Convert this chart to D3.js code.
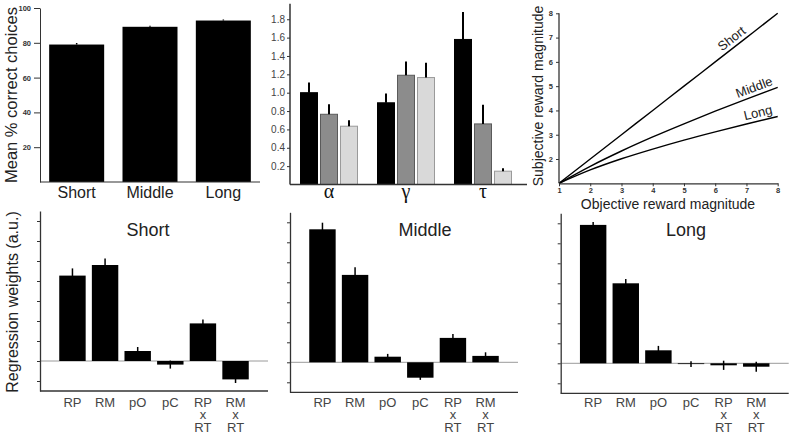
<!DOCTYPE html>
<html><head><meta charset="utf-8">
<script src="https://cdn.jsdelivr.net/npm/d3@7"></script>
<style>body{margin:0;background:#fff}svg{display:block;font-family:"Liberation Sans",Arial,sans-serif}</style>
</head><body><svg id="c" width="790" height="437"></svg>
<script>
// ---------- data ----------
const accCategories = ["Short", "Middle", "Long"];
const accValues = [79.0, 89.2, 92.8];
const accErrors = [0.9, 0.6, 0.6];
const accTicks = [20, 40, 60, 80, 100];

const paramNames = ["α", "γ", "τ"];
const paramGroups = ["Short", "Middle", "Long"];
const paramShort = [1.00, 0.89, 1.58];
const paramMiddle = [0.765, 1.19, 0.66];
const paramLong = [0.635, 1.165, 0.145];
const paramShortErr = [0.11, 0.10, 0.30];
const paramMiddleErr = [0.11, 0.15, 0.21];
const paramLongErr = [0.066, 0.16, 0.032];
const paramTicks = [0.2, 0.4, 0.6, 0.8, 1.0, 1.2, 1.4, 1.6, 1.8];

const objectiveMagnitude = [1, 2, 3, 4, 5, 6, 7, 8];
const subjectiveShort = [1, 2, 3, 4, 5, 6, 7, 8];
const subjectiveMiddle = [1, 1.70, 2.33, 2.91, 3.45, 3.97, 4.47, 4.95];
const subjectiveLong = [1, 1.55, 2.01, 2.41, 2.78, 3.12, 3.44, 3.75];
const magnitudeTicks = [1, 2, 3, 4, 5, 6, 7, 8];
const curveNames = ["Short", "Middle", "Long"];

const regressors = ["RP", "RM", "pO", "pC", "RPxRT", "RMxRT"];
const regressorLabels = [["RP"], ["RM"], ["pO"], ["pC"], ["RP", "x", "RT"], ["RM", "x", "RT"]];
const weightsShort = [4.27, 4.80, 0.50, -0.18, 1.88, -0.92];
const weightsShortErr = [0.36, 0.32, 0.20, 0.20, 0.20, 0.18];
const weightsMiddle = [6.65, 4.37, 0.28, -0.77, 1.22, 0.32];
const weightsMiddleErr = [0.33, 0.38, 0.14, 0.11, 0.20, 0.18];
const weightsLong = [6.92, 4.00, 0.65, -0.04, -0.10, -0.17];
const weightsLongErr = [0.15, 0.22, 0.22, 0.14, 0.23, 0.25];
const weightTicks = [-1, 0, 1, 2, 3, 4, 5, 6, 7];
const weightPanels = ["Short", "Middle", "Long"];

// ---------- drawing ----------
const svg = d3.select("#c");
const axisCol = "#333";

// ===== Panel A: accuracy =====
{
  const g = svg.append("g");
  const x = d3.scaleBand().domain(accCategories).range([40, 260]).paddingInner(0.25).paddingOuter(0.125);
  const y = d3.scaleLinear().domain([0, 100]).range([182, 8]);
  g.selectAll("rect").data(accValues).join("rect")
    .attr("x", (d, i) => x(accCategories[i])).attr("width", x.bandwidth())
    .attr("y", d => y(d)).attr("height", d => y(0) - y(d)).attr("fill", "#000");
  g.selectAll("line.err").data(accValues).join("line").attr("class", "err")
    .attr("x1", (d, i) => x(accCategories[i]) + x.bandwidth() / 2)
    .attr("x2", (d, i) => x(accCategories[i]) + x.bandwidth() / 2)
    .attr("y1", d => y(d)).attr("y2", (d, i) => y(d + accErrors[i]))
    .attr("stroke", "#000").attr("stroke-width", 1.5);
  const ya = g.append("g").attr("transform", "translate(40,0)")
    .call(d3.axisLeft(y).tickValues(accTicks).tickFormat(d3.format("d")).tickSize(6).tickPadding(3).tickSizeOuter(0));
  ya.select(".domain").attr("stroke", axisCol);
  ya.selectAll(".tick line").attr("stroke", axisCol);
  ya.selectAll("text").attr("font-size", 7.5).attr("fill", "#333").attr("font-weight", "bold");
  g.append("line").attr("x1", 40).attr("x2", 260).attr("y1", y(0)).attr("y2", y(0)).attr("stroke", axisCol).attr("stroke-width", 1.2);
  g.selectAll("text.cat").data(accCategories).join("text").attr("class", "cat")
    .attr("x", d => x(d) + x.bandwidth() / 2).attr("y", 198).attr("text-anchor", "middle")
    .attr("font-size", 16).attr("fill", "#222").text(d => d);
  g.append("text").attr("transform", "translate(17,95) rotate(-90)").attr("text-anchor", "middle")
    .attr("font-size", 16.5).attr("fill", "#222").text("Mean % correct choices");
}

// ===== Panel B: parameters =====
{
  const g = svg.append("g");
  const series = [paramShort, paramMiddle, paramLong];
  const errs = [paramShortErr, paramMiddleErr, paramLongErr];
  const fills = ["#000", "#8c8c8c", "#d9d9d9"];
  const strokes = ["#000", "#5a5a5a", "#9a9a9a"];
  const x0 = d3.scaleBand().domain(paramNames).range([290.5, 521.5]);
  const x1 = d3.scaleBand().domain(paramGroups).range([-29, 29]).paddingInner(0.1);
  const y = d3.scaleLinear().domain([0, 2]).range([184.5, 0.9]);
  paramGroups.forEach((grp, s) => {
    g.selectAll("rect.s" + s).data(series[s]).join("rect").attr("class", "s" + s)
      .attr("x", (d, i) => x0(paramNames[i]) + x0.bandwidth() / 2 + x1(grp) + 0.5)
      .attr("width", x1.bandwidth() - 1)
      .attr("y", d => y(d)).attr("height", d => y(0) - y(d))
      .attr("fill", fills[s]).attr("stroke", strokes[s]).attr("stroke-width", 1);
    g.selectAll("line.e" + s).data(series[s]).join("line").attr("class", "e" + s)
      .attr("x1", (d, i) => x0(paramNames[i]) + x0.bandwidth() / 2 + x1(grp) + x1.bandwidth() / 2)
      .attr("x2", (d, i) => x0(paramNames[i]) + x0.bandwidth() / 2 + x1(grp) + x1.bandwidth() / 2)
      .attr("y1", d => y(d)).attr("y2", (d, i) => y(d + errs[s][i]))
      .attr("stroke", "#000").attr("stroke-width", 2);
  });
  const ya = g.append("g").attr("transform", "translate(290,0)")
    .call(d3.axisLeft(y).tickValues(paramTicks).tickFormat(d3.format(".1f")).tickSize(3).tickPadding(2).tickSizeOuter(0));
  ya.select(".domain").attr("d", `M0,${y(0)}V${y(1.97)}`).attr("stroke", axisCol).attr("stroke-width", 1.5);
  ya.selectAll(".tick line").attr("stroke", axisCol);
  ya.selectAll("text").attr("font-size", 10).attr("fill", "#444");
  g.append("line").attr("x1", 290).attr("x2", 527).attr("y1", y(0)).attr("y2", y(0)).attr("stroke", axisCol).attr("stroke-width", 1.5);
  g.selectAll("text.greek").data(paramNames).join("text").attr("class", "greek")
    .attr("x", d => x0(d) + x0.bandwidth() / 2).attr("y", 198).attr("text-anchor", "middle")
    .attr("font-family", "'Liberation Serif','DejaVu Serif',serif")
    .attr("font-size", 20).attr("fill", "#111").text(d => d);
}

// ===== Panel C: subjective magnitude =====
{
  const g = svg.append("g");
  const x = d3.scaleLinear().domain([1, 8]).range([559, 777.7]);
  const y = d3.scaleLinear().domain([1, 8]).range([183.3, 13.3]);
  const curves = [subjectiveShort, subjectiveMiddle, subjectiveLong];
  const line = d3.line().x((d, i) => x(objectiveMagnitude[i])).y(d => y(d)).curve(d3.curveMonotoneX);
  g.selectAll("path.curve").data(curves).join("path").attr("class", "curve")
    .attr("d", line).attr("fill", "none").attr("stroke", "#000").attr("stroke-width", 1.4);
  const xa = g.append("g").attr("transform", `translate(0,${y(1)})`)
    .call(d3.axisBottom(x).tickValues(magnitudeTicks).tickFormat(d3.format("d")).tickSize(3).tickPadding(1).tickSizeOuter(0));
  xa.select(".domain").attr("stroke", axisCol).attr("stroke-width", 1.3);
  xa.selectAll(".tick line").attr("stroke", axisCol);
  xa.selectAll("text").attr("font-size", 7.5).attr("fill", "#333").attr("font-weight", "bold");
  const ya = g.append("g").attr("transform", `translate(${x(1)},0)`)
    .call(d3.axisLeft(y).tickValues(magnitudeTicks.slice(1)).tickFormat(d3.format("d")).tickSize(3).tickPadding(3).tickSizeOuter(0));
  ya.select(".domain").attr("d", `M0,${y(1)}V${y(8)}`).attr("stroke", axisCol).attr("stroke-width", 1.3);
  ya.selectAll(".tick line").attr("stroke", axisCol);
  ya.selectAll("text").attr("font-size", 7.5).attr("fill", "#333").attr("font-weight", "bold");
  // curve labels placed along each curve
  const labelAt = [6.69, 7.34, 7.43];
  curves.forEach((c, k) => {
    const xv = labelAt[k];
    const i = Math.min(objectiveMagnitude.length - 2, Math.floor(xv - 1));
    const t = (xv - objectiveMagnitude[i]) / (objectiveMagnitude[i + 1] - objectiveMagnitude[i]);
    const yv = c[i] + t * (c[i + 1] - c[i]);
    const dx = x(objectiveMagnitude[i + 1]) - x(objectiveMagnitude[i]);
    const dy = y(c[i + 1]) - y(c[i]);
    const ang = Math.atan2(dy, dx) * 180 / Math.PI;
    g.append("text").attr("transform", `translate(${x(xv)},${y(yv)}) rotate(${ang})`)
      .attr("y", -4).attr("text-anchor", "middle").attr("font-size", 13).attr("fill", "#222")
      .text(curveNames[k]);
  });
  g.append("text").attr("x", 668).attr("y", 208.5).attr("text-anchor", "middle")
    .attr("font-size", 14).attr("fill", "#222").text("Objective reward magnitude");
  g.append("text").attr("transform", "translate(543,96) rotate(-90)").attr("text-anchor", "middle")
    .attr("font-size", 14).attr("fill", "#222").text("Subjective reward magnitude");
}

// ===== Panels D: regression weights =====
{
  const weights = [weightsShort, weightsMiddle, weightsLong];
  const werrs = [weightsShortErr, weightsMiddleErr, weightsLongErr];
  const axisX = [40, 290, 560.7];
  const topY = [211, 212.3, 213.3];
  const titleX = [148, 425, 686];
  weightPanels.forEach((name, p) => {
    const g = svg.append("g");
    const x = d3.scaleBand().domain(regressors).range([axisX[p], axisX[p] + 228]).paddingInner(0.19).paddingOuter(0.59);
    const y = d3.scaleLinear().domain([-1.5, 7.5]).range([topY[p] + 180, topY[p]]);
    g.append("line").attr("x1", axisX[p]).attr("x2", axisX[p] + 228).attr("y1", y(0)).attr("y2", y(0))
      .attr("stroke", "#9a9a9a").attr("stroke-width", 1);
    g.selectAll("rect").data(weights[p]).join("rect")
      .attr("x", (d, i) => x(regressors[i])).attr("width", x.bandwidth())
      .attr("y", d => y(Math.max(0, d))).attr("height", d => Math.abs(y(d) - y(0)))
      .attr("fill", "#000");
    g.selectAll("line.err").data(weights[p]).join("line").attr("class", "err")
      .attr("x1", (d, i) => x(regressors[i]) + x.bandwidth() / 2)
      .attr("x2", (d, i) => x(regressors[i]) + x.bandwidth() / 2)
      .attr("y1", (d, i) => y(d - werrs[p][i])).attr("y2", (d, i) => y(d + werrs[p][i]))
      .attr("stroke", "#000").attr("stroke-width", 1.5);
    const ya = g.append("g").attr("transform", `translate(${axisX[p]},0)`)
      .call(d3.axisLeft(y).tickValues(weightTicks).tickFormat("").tickSize(3).tickSizeOuter(0));
    ya.select(".domain").attr("stroke", axisCol).attr("stroke-width", 1.3);
    ya.selectAll(".tick line").attr("stroke", axisCol);
    g.append("line").attr("x1", axisX[p]).attr("x2", axisX[p] + 228).attr("y1", y(-1.5)).attr("y2", y(-1.5))
      .attr("stroke", axisCol).attr("stroke-width", 1.3);
    const lab = g.selectAll("text.lab").data(regressorLabels).join("text").attr("class", "lab")
      .attr("text-anchor", "middle").attr("font-size", 13).attr("fill", "#444");
    lab.each(function (lines, i) {
      const cx = x(regressors[i]) + x.bandwidth() / 2;
      d3.select(this).selectAll("tspan").data(lines).join("tspan")
        .attr("x", cx).attr("y", (d, j) => 406.5 + j * 12.5).text(d => d);
    });
    g.append("text").attr("x", titleX[p])
      .attr("y", 236).attr("text-anchor", "middle").attr("font-size", 18).attr("fill", "#222").text(name);
  });
  svg.append("text").attr("transform", "translate(18,302) rotate(-90)").attr("text-anchor", "middle")
    .attr("font-size", 16).attr("fill", "#222").text("Regression weights (a.u.)");
}
</script></body></html>
